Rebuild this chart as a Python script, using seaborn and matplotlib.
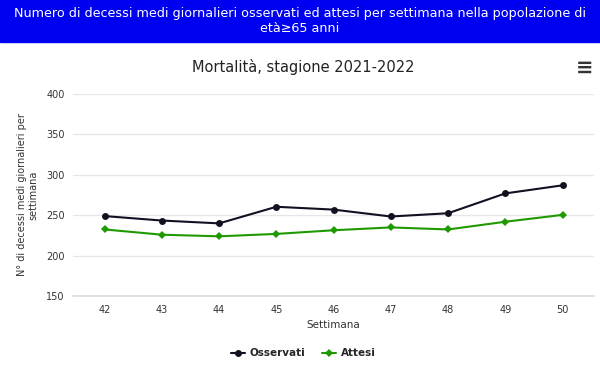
import matplotlib
matplotlib.use("Agg")
import matplotlib.pyplot as plt
from matplotlib.lines import Line2D
import seaborn as sns
import pandas as pd

# values
settimane = [42, 43, 44, 45, 46, 47, 48, 49, 50]
osservati = [249, 243.5, 240, 260.5, 257, 248.5, 252.5, 277, 287]
attesi = [232.5, 226, 224, 227, 231.5, 235, 232.5, 242, 250.5]

df = pd.DataFrame({
    "Settimana": settimane * 2,
    "valore": osservati + attesi,
    "serie": ["Osservati"] * len(settimane) + ["Attesi"] * len(settimane),
})

sns.set_theme(style="white")
plt.rcParams["font.family"] = ["DejaVu Sans"]

fig = plt.figure(figsize=(6, 3.68), dpi=100)
ax = fig.add_axes([0.122, 0.195, 0.868, 0.55])

# blue banner on top
fig.patches.append(plt.Rectangle((0, 0.886), 1, 0.114, transform=fig.transFigure,
                                 color="#0000f0", zorder=0))
fig.text(0.5, 0.944, "Numero di decessi medi giornalieri osservati ed attesi per settimana nella popolazione di\netà≥65 anni",
         ha="center", va="center", color="white", fontsize=9.2, linespacing=1.2)

fig.text(0.505, 0.818, "Mortalità, stagione 2021-2022", ha="center", va="center",
         fontsize=10.5, color="#222222")
fig.text(0.975, 0.815, "≡", ha="center", va="center", fontsize=15, color="#333333",
         fontweight="bold")

colori = {"Osservati": "#111122", "Attesi": "#1e9a00"}
marker = {"Osservati": "o", "Attesi": "D"}
sns.lineplot(data=df, x="Settimana", y="valore", hue="serie", style="serie",
             markers=marker, dashes=False, palette=colori, ax=ax,
             linewidth=1.5, markersize=5, markeredgewidth=0, legend=False)
for ln in ax.lines:
    if ln.get_marker() == "D":
        ln.set_markersize(4)

ax.set_xlim(41.45, 50.55)
ax.set_ylim(150, 400)
ax.set_xticks(settimane)
ax.set_yticks([150, 200, 250, 300, 350, 400])
ax.grid(axis="y", color="#e6e6e6", linewidth=0.9)
ax.set_axisbelow(True)
for s in ["top", "right", "left"]:
    ax.spines[s].set_visible(False)
ax.spines["bottom"].set_color("#dddddd")
ax.tick_params(axis="both", length=0, labelsize=7, colors="#333333", pad=6)
ax.set_xlabel("Settimana", fontsize=7.5, color="#333333", labelpad=4)
ax.set_ylabel("N° di decessi medi giornalieri per\nsettimana", fontsize=7, color="#333333",
              labelpad=6, linespacing=1.1)

# legend
handles = [Line2D([], [], color=colori[k], marker=marker[k],
                  markersize=5 if k == "Osservati" else 4,
                  markeredgewidth=0, linewidth=1.5) for k in ["Osservati", "Attesi"]]
fig.legend(handles, ["Osservati", "Attesi"], loc="center", bbox_to_anchor=(0.505, 0.04),
           ncol=2, frameon=False, handlelength=1.4, columnspacing=1.6,
           handletextpad=0.4, prop={"weight": "bold", "size": 7.5})

fig.savefig("out.png", dpi=100)
